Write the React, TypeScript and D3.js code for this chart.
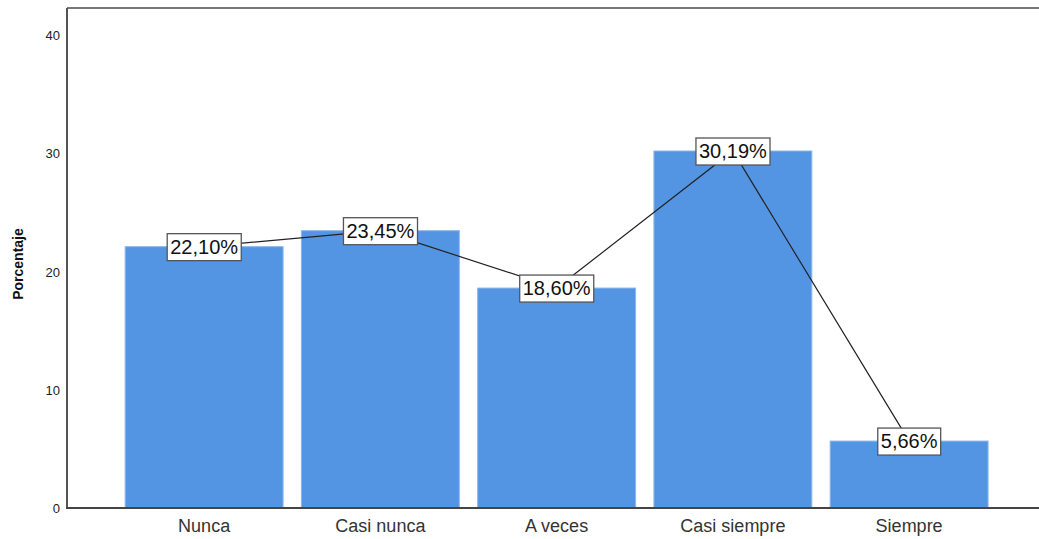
import React, { useEffect, useRef } from "react";
import * as d3 from "d3";

const categories = ["Nunca", "Casi nunca", "A veces", "Casi siempre", "Siempre"];
const percentages = [22.1, 23.45, 18.6, 30.19, 5.66];
const yTicks = [0, 10, 20, 30, 40];

const W = 1039;
const H = 539;

export default function App() {
  const ref = useRef<SVGSVGElement>(null);

  useEffect(() => {
    const svg = d3.select(ref.current);
    svg.selectAll("*").remove();

    const x = d3.scaleBand<string>().domain(categories).range([116, 997.25]).paddingInner(0.104).paddingOuter(0.052);
    const y = d3.scaleLinear().domain([0, 40]).range([508, 35]);
    const font = "'Liberation Sans', Arial, sans-serif";

    // frame: top + left + bottom
    svg.append("line").attr("x1", 67).attr("x2", W).attr("y1", 8).attr("y2", 8).attr("stroke", "#777").attr("stroke-width", 2);
    svg.append("line").attr("x1", 67).attr("x2", 67).attr("y1", 8).attr("y2", 509).attr("stroke", "#555").attr("stroke-width", 2);

    svg.append("g").selectAll("rect").data(percentages).join("rect")
      .attr("x", (d, i) => x(categories[i])!)
      .attr("width", x.bandwidth())
      .attr("y", d => y(d))
      .attr("height", d => y(0) - y(d))
      .attr("fill", "#5495e3")
      .attr("stroke", "#8ab6ec")
      .attr("stroke-width", 1);

    svg.append("line").attr("x1", 66).attr("x2", W).attr("y1", 508).attr("y2", 508).attr("stroke", "#444").attr("stroke-width", 2);

    svg.append("g").selectAll("text").data(yTicks).join("text")
      .attr("x", 60).attr("y", d => y(d) + 5)
      .attr("text-anchor", "end")
      .attr("font-family", font).attr("font-size", 13).attr("fill", "#222")
      .text(d => d);

    svg.append("text")
      .attr("transform", "translate(23,264) rotate(-90)")
      .attr("text-anchor", "middle")
      .attr("font-family", font).attr("font-size", 14).attr("font-weight", "bold").attr("fill", "#111")
      .text("Porcentaje");

    svg.append("g").selectAll("text").data(categories).join("text")
      .attr("x", d => x(d)! + x.bandwidth() / 2).attr("y", 532)
      .attr("text-anchor", "middle")
      .attr("font-family", font).attr("font-size", 18).attr("fill", "#333")
      .text(d => d);

    const line = d3.line<number>().x((d, i) => x(categories[i])! + x.bandwidth() / 2).y(d => y(d));
    svg.append("path").attr("d", line(percentages)).attr("fill", "none").attr("stroke", "#222").attr("stroke-width", 1.2);

    const labels = svg.append("g").selectAll("g").data(percentages).join("g")
      .attr("transform", (d, i) => `translate(${x(categories[i])! + x.bandwidth() / 2},${y(d)})`);
    labels.append("text")
      .attr("text-anchor", "middle").attr("y", 7)
      .attr("font-family", font).attr("font-size", 20).attr("fill", "#111")
      .text(d => d.toFixed(2).replace(".", ",") + "%");
    labels.each(function () {
      const g = d3.select(this);
      const bb = (g.select("text").node() as SVGTextElement).getBBox();
      g.insert("rect", "text")
        .attr("x", bb.x - 3).attr("y", -13)
        .attr("width", bb.width + 6).attr("height", 27)
        .attr("fill", "#fff").attr("stroke", "#555").attr("stroke-width", 1.3);
    });
  }, []);

  return <svg ref={ref} width={W} height={H} style={{ position: "absolute", left: 0, top: 0 }} />;
}
